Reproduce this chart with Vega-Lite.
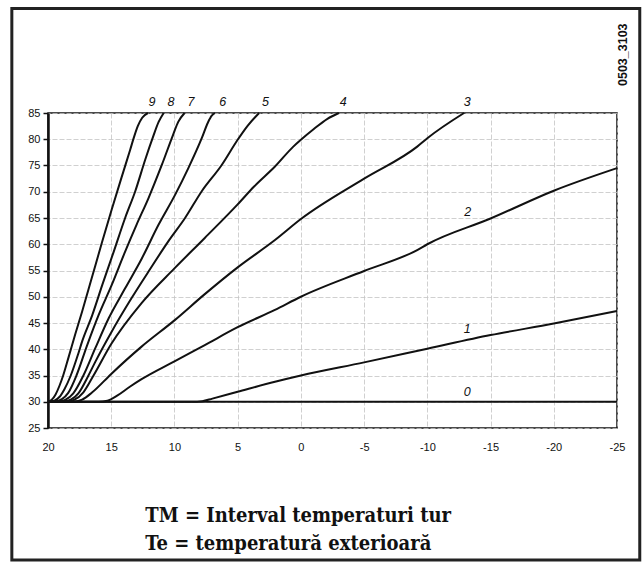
{
  "$schema": "https://vega.github.io/schema/vega-lite/v6.json",
  "width": 569,
  "height": 315,
  "padding": {"left": 10, "top": 7, "right": 0, "bottom": 0},
  "background": "white",
  "config": {"view": {"stroke": "#111", "strokeWidth": 1.5}},
  "datasets": {
    "curves": [
      {"curve": "0", "x": 20, "y": 30}, {"curve": "0", "x": -25, "y": 30},
      {"curve": "1", "x": 20, "y": 30}, {"curve": "1", "x": 8.6, "y": 30}, {"curve": "1", "x": 7.8, "y": 30.1}, {"curve": "1", "x": 7, "y": 30.6}, {"curve": "1", "x": 5, "y": 31.9}, {"curve": "1", "x": 2.05, "y": 33.8}, {"curve": "1", "x": 0, "y": 35}, {"curve": "1", "x": -5, "y": 37.5}, {"curve": "1", "x": -10, "y": 40.1}, {"curve": "1", "x": -15, "y": 42.7}, {"curve": "1", "x": -20, "y": 44.9}, {"curve": "1", "x": -25, "y": 47.3},
      {"curve": "2", "x": 20, "y": 30}, {"curve": "2", "x": 16, "y": 30}, {"curve": "2", "x": 15.3, "y": 30.2}, {"curve": "2", "x": 14.5, "y": 31.2}, {"curve": "2", "x": 13.5, "y": 32.9}, {"curve": "2", "x": 12.6, "y": 34.3}, {"curve": "2", "x": 10, "y": 37.7}, {"curve": "2", "x": 7.6, "y": 40.8}, {"curve": "2", "x": 5, "y": 44.2}, {"curve": "2", "x": 2.05, "y": 47.5}, {"curve": "2", "x": 0, "y": 50}, {"curve": "2", "x": -5, "y": 54.9}, {"curve": "2", "x": -9.2, "y": 58.9}, {"curve": "2", "x": -10, "y": 60}, {"curve": "2", "x": -15, "y": 64.9}, {"curve": "2", "x": -20, "y": 70.2}, {"curve": "2", "x": -25, "y": 74.5},
      {"curve": "3", "x": 20, "y": 30}, {"curve": "3", "x": 17.9, "y": 30.05}, {"curve": "3", "x": 17.3, "y": 30.4}, {"curve": "3", "x": 16.5, "y": 31.8}, {"curve": "3", "x": 15, "y": 35.3}, {"curve": "3", "x": 12.6, "y": 40.5}, {"curve": "3", "x": 10, "y": 45.5}, {"curve": "3", "x": 7.6, "y": 50.5}, {"curve": "3", "x": 5, "y": 55.6}, {"curve": "3", "x": 2.05, "y": 60.8}, {"curve": "3", "x": 0, "y": 64.8}, {"curve": "3", "x": -5, "y": 72.5}, {"curve": "3", "x": -9.2, "y": 78.6}, {"curve": "3", "x": -10, "y": 80.2}, {"curve": "3", "x": -12.9, "y": 85},
      {"curve": "4", "x": 20, "y": 30}, {"curve": "4", "x": 18.5, "y": 30.05}, {"curve": "4", "x": 17.9, "y": 30.4}, {"curve": "4", "x": 17.2, "y": 31.8}, {"curve": "4", "x": 16.4, "y": 35}, {"curve": "4", "x": 15, "y": 41}, {"curve": "4", "x": 12.6, "y": 48.8}, {"curve": "4", "x": 10, "y": 55.4}, {"curve": "4", "x": 7.6, "y": 61.2}, {"curve": "4", "x": 5, "y": 67.6}, {"curve": "4", "x": 3.7, "y": 71}, {"curve": "4", "x": 2.05, "y": 74.8}, {"curve": "4", "x": 0.6, "y": 78.6}, {"curve": "4", "x": 0, "y": 79.9}, {"curve": "4", "x": -1, "y": 81.9}, {"curve": "4", "x": -2.1, "y": 83.9}, {"curve": "4", "x": -3, "y": 85},
      {"curve": "5", "x": 20, "y": 30}, {"curve": "5", "x": 18.8, "y": 30.05}, {"curve": "5", "x": 18.2, "y": 30.4}, {"curve": "5", "x": 17.6, "y": 31.6}, {"curve": "5", "x": 16.8, "y": 35}, {"curve": "5", "x": 16.26, "y": 37.6}, {"curve": "5", "x": 15, "y": 43.2}, {"curve": "5", "x": 13.4, "y": 49.7}, {"curve": "5", "x": 12.05, "y": 54.8}, {"curve": "5", "x": 10.5, "y": 60.5}, {"curve": "5", "x": 9.16, "y": 65}, {"curve": "5", "x": 7.84, "y": 70.1}, {"curve": "5", "x": 6.26, "y": 75.1}, {"curve": "5", "x": 5, "y": 79.9}, {"curve": "5", "x": 4.2, "y": 82.6}, {"curve": "5", "x": 3.3, "y": 85},
      {"curve": "6", "x": 20, "y": 30}, {"curve": "6", "x": 19.1, "y": 30.05}, {"curve": "6", "x": 18.6, "y": 30.4}, {"curve": "6", "x": 18, "y": 31.6}, {"curve": "6", "x": 17.2, "y": 35}, {"curve": "6", "x": 16.26, "y": 40.2}, {"curve": "6", "x": 15.2, "y": 45.9}, {"curve": "6", "x": 13.9, "y": 51.6}, {"curve": "6", "x": 12.58, "y": 57.3}, {"curve": "6", "x": 11.26, "y": 63.7}, {"curve": "6", "x": 9.95, "y": 69.4}, {"curve": "6", "x": 8.9, "y": 74.5}, {"curve": "6", "x": 7.84, "y": 80.2}, {"curve": "6", "x": 7.35, "y": 83.2}, {"curve": "6", "x": 7.05, "y": 84.5}, {"curve": "6", "x": 6.8, "y": 85},
      {"curve": "7", "x": 20, "y": 30}, {"curve": "7", "x": 19.3, "y": 30.1}, {"curve": "7", "x": 18.9, "y": 30.5}, {"curve": "7", "x": 18.4, "y": 31.7}, {"curve": "7", "x": 17.75, "y": 35}, {"curve": "7", "x": 16.9, "y": 40.8}, {"curve": "7", "x": 16, "y": 46.5}, {"curve": "7", "x": 14.95, "y": 52.3}, {"curve": "7", "x": 13.9, "y": 58.6}, {"curve": "7", "x": 13, "y": 63.7}, {"curve": "7", "x": 12.05, "y": 68.8}, {"curve": "7", "x": 11, "y": 75.1}, {"curve": "7", "x": 10.1, "y": 80.9}, {"curve": "7", "x": 9.7, "y": 83.3}, {"curve": "7", "x": 9.2, "y": 85},
      {"curve": "8", "x": 20, "y": 30}, {"curve": "8", "x": 19.5, "y": 30.2}, {"curve": "8", "x": 19.1, "y": 30.9}, {"curve": "8", "x": 18.7, "y": 32.4}, {"curve": "8", "x": 18.2, "y": 35}, {"curve": "8", "x": 17.6, "y": 39.2}, {"curve": "8", "x": 17.3, "y": 41.5}, {"curve": "8", "x": 16.5, "y": 46.5}, {"curve": "8", "x": 15.7, "y": 52.3}, {"curve": "8", "x": 14.8, "y": 58.6}, {"curve": "8", "x": 13.9, "y": 65}, {"curve": "8", "x": 13.1, "y": 70.1}, {"curve": "8", "x": 12.3, "y": 76.2}, {"curve": "8", "x": 11.7, "y": 80.4}, {"curve": "8", "x": 11.25, "y": 83.3}, {"curve": "8", "x": 10.85, "y": 85},
      {"curve": "9", "x": 20, "y": 30}, {"curve": "9", "x": 19.7, "y": 30.4}, {"curve": "9", "x": 19.4, "y": 31.4}, {"curve": "9", "x": 19.1, "y": 33}, {"curve": "9", "x": 18.8, "y": 35}, {"curve": "9", "x": 18.37, "y": 38.5}, {"curve": "9", "x": 17.84, "y": 42.9}, {"curve": "9", "x": 17.3, "y": 47.2}, {"curve": "9", "x": 16.8, "y": 51.4}, {"curve": "9", "x": 16.26, "y": 55.9}, {"curve": "9", "x": 15.74, "y": 60.3}, {"curve": "9", "x": 14.95, "y": 66.7}, {"curve": "9", "x": 14.2, "y": 72.6}, {"curve": "9", "x": 13.5, "y": 78}, {"curve": "9", "x": 13.2, "y": 80.4}, {"curve": "9", "x": 12.9, "y": 82.5}, {"curve": "9", "x": 12.55, "y": 84.1}, {"curve": "9", "x": 12.1, "y": 85}
    ],
    "labels": [
      {"label": "9", "x": 11.77, "y": 87.1},
      {"label": "8", "x": 10.27, "y": 87.1},
      {"label": "7", "x": 8.69, "y": 87.1},
      {"label": "6", "x": 6.19, "y": 87.1},
      {"label": "5", "x": 2.81, "y": 87.1},
      {"label": "4", "x": -3.34, "y": 87.1},
      {"label": "3", "x": -13.15, "y": 87.1},
      {"label": "2", "x": -13.2, "y": 66.07},
      {"label": "1", "x": -13.15, "y": 43.95},
      {"label": "0", "x": -13.15, "y": 31.86}
    ],
    "frame": [{"x": 22.86, "x2": -26.8, "y": 104.9, "y2": -0.13}],
    "notes": [
      {"text": "TM = Interval temperaturi tur", "x": 12.3, "y": 7.02},
      {"text": "Te = temperatură exterioară", "x": 12.3, "y": 1.68}
    ],
    "code": [{"text": "0503_3103", "x": -25.5, "y": 96.1}]
  },
  "encoding": {
    "x": {
      "field": "x", "type": "quantitative",
      "scale": {"domain": [-25, 20], "reverse": true, "nice": false, "zero": false},
      "axis": {
        "values": [20, 15, 10, 5, 0, -5, -10, -15, -20, -25],
        "title": null, "grid": true, "gridColor": "#c4c4c4", "gridDash": [5, 2], "gridWidth": 0.8,
        "domain": false, "ticks": false, "labelPadding": 13, "labelFontSize": 11,
        "labelColor": "#111", "labelFont": "Liberation Sans", "labelFlush": false,
        "labelExpr": "datum.value + ''"
      }
    },
    "y": {
      "field": "y", "type": "quantitative",
      "scale": {"domain": [25, 85], "nice": false, "zero": false},
      "axis": {
        "values": [25, 30, 35, 40, 45, 50, 55, 60, 65, 70, 75, 80, 85],
        "title": null, "grid": true, "gridColor": "#c4c4c4", "gridDash": [5, 2], "gridWidth": 0.8,
        "domain": true, "domainColor": "#111", "domainWidth": 2.5,
        "ticks": true, "tickColor": "#111", "tickWidth": 1.5, "tickSize": 5,
        "labelPadding": 3, "labelFontSize": 11, "labelColor": "#111",
        "labelFont": "Liberation Sans", "labelFlush": false
      }
    }
  },
  "layer": [
    {
      "data": {"name": "curves"},
      "mark": {"type": "line", "interpolate": "monotone", "color": "#111", "strokeWidth": 2},
      "encoding": {
        "detail": {"field": "curve", "type": "nominal"},
        "order": {"field": "x", "sort": "descending"}
      }
    },
    {
      "data": {"name": "labels"},
      "mark": {"type": "text", "font": "Liberation Sans", "fontStyle": "italic", "fontSize": 12.5, "color": "#111", "align": "center", "baseline": "middle"},
      "encoding": {"text": {"field": "label", "type": "nominal"}}
    },
    {
      "data": {"name": "frame"},
      "mark": {"type": "rect", "filled": false, "stroke": "#222", "strokeWidth": 3},
      "encoding": {"x2": {"field": "x2"}, "y2": {"field": "y2"}}
    },
    {
      "data": {"name": "notes"},
      "mark": {"type": "text", "font": "DejaVu Serif Condensed", "fontWeight": "bold", "fontSize": 20, "color": "#111", "align": "left", "baseline": "alphabetic"},
      "encoding": {"text": {"field": "text", "type": "nominal"}}
    },
    {
      "data": {"name": "code"},
      "mark": {"type": "text", "font": "Liberation Sans", "fontWeight": "bold", "fontSize": 12.5, "color": "#111", "angle": 270, "align": "center", "baseline": "middle"},
      "encoding": {"text": {"field": "text", "type": "nominal"}}
    }
  ]
}
